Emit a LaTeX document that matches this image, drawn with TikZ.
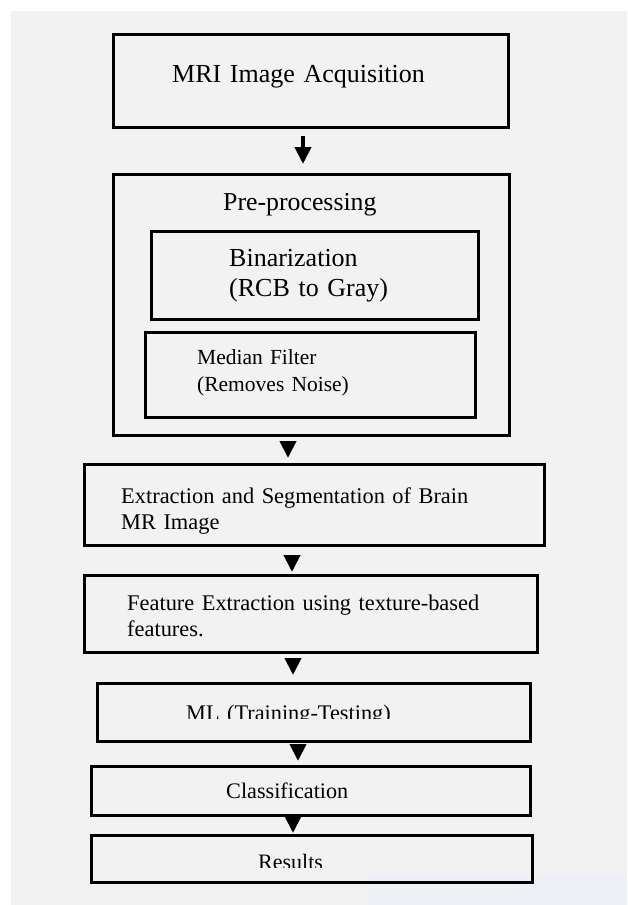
\documentclass[tikz,border=0pt]{standalone}
\usepackage{fontspec}
\setmainfont{Liberation Serif}
\usepackage{xcolor}
\usepackage{tikz}
\usetikzlibrary{arrows.meta}
\usetikzlibrary{positioning}
\usetikzlibrary{calc}
\definecolor{paper}{HTML}{F2F2F2}
\definecolor{paperblue}{HTML}{EDF0F5}
\newcommand{\fsz}[2]{\fontsize{#1}{#2}\selectfont}
\tikzset{
	stage/.style={draw, line width=3pt, inner sep=0pt, anchor=north west},
	stagetext/.style={anchor=base west, inner sep=0pt, align=left, text width=420pt},
}

\begin{document}
\begin{tikzpicture}[x=1pt, y=-1pt, >={Triangle[length=17pt, width=16pt]}]
			%background
			\useasboundingbox (0,0) rectangle (627,905);
			\fill[white] (0,0) rectangle (627,905);
			\fill[paper] (11,11) rectangle (627,905);
			\fill[paperblue] (367,875) rectangle (627,905);
			
			%coordinates
			\coordinate (LLacq)  at (112,33);
			\coordinate (LLpre)  at (112,173);
			\coordinate (LLbin)  at (150,230);
			\coordinate (LLmed)  at (144,331);
			\coordinate (LLext)  at (83,463);
			\coordinate (LLfeat) at (83,574);
			\coordinate (LLml)   at (96,682);
			\coordinate (LLcls)  at (90,765);
			\coordinate (LLres)  at (90,834);
			
			\coordinate (AroneX)  at (303,0);
			\coordinate (ArtwoX)  at (288,0);
			\coordinate (ArthrX)  at (292,0);
			\coordinate (ArfourX) at (293,0);
			\coordinate (ArfiveX) at (298,0);
			\coordinate (ArsixX)  at (293,0);
			
			%nodes
			\node[stage, minimum width=395pt, minimum height=93pt] (acq) at (LLacq) {};
			\node[stage, minimum width=396pt, minimum height=261pt] (pre) at (LLpre) {};
			\node[stage, minimum width=327pt, minimum height=88pt] (bin) at (LLbin) {};
			\node[stage, minimum width=330pt, minimum height=85pt] (med) at (LLmed) {};
			\node[stage, minimum width=460pt, minimum height=81pt] (ext) at (LLext) {};
			\node[stage, minimum width=453pt, minimum height=77pt] (feat) at (LLfeat) {};
			\node[stage, minimum width=433pt, minimum height=58pt] (ml) at (LLml) {};
			\node[stage, minimum width=439pt, minimum height=49pt] (cls) at (LLcls) {};
			\node[stage, minimum width=441pt, minimum height=47pt] (res) at (LLres) {};
			
			\node[stagetext, font=\fsz{26}{30}] (acqtext) at (172,82) {MRI Image Acquisition};
			\node[stagetext, font=\fsz{25.8}{30}] (pretext) at (223,210) {Pre-processing};
			\node[stagetext, font=\fsz{26}{30}] (bintext) at (229,266) {Binarization\\(RCB to Gray)};
			\node[stagetext, font=\fsz{21.5}{27}] (medtext) at (197,364) {Median Filter\\(Removes Noise)};
			\node[stagetext, font=\fsz{22.4}{26}] (exttext) at (121,503) {Extraction and Segmentation of Brain\\MR Image};
			\node[stagetext, font=\fsz{22.4}{26}] (feattext) at (127,610) {Feature Extraction using texture-based\\features.};
			\begin{scope}
				\clip (ml.north west) rectangle (529,718);
				\node[stagetext, font=\fsz{22.3}{26}] (mltext) at (186,720) {ML (Training-Testing)};
			\end{scope}
			\node[stagetext, font=\fsz{22.2}{26}] (clstext) at (226,798) {Classification};
			\begin{scope}
				\clip (res.north west) rectangle (531,867.5);
				\node[stagetext, font=\fsz{22}{26}] (restext) at (258,869.5) {Results};
			\end{scope}
			
			%arrows
			\draw[->, line width=4pt, shorten <=7pt, shorten >=9pt] (acq.south -| AroneX) -- (pre.north -| AroneX);
			\draw[->, line width=4pt, shorten <=6pt, shorten >=5pt] (pre.south -| ArtwoX) -- (ext.north -| ArtwoX);
			\draw[->, line width=4pt, shorten <=10pt, shorten >=2pt] (ext.south -| ArthrX) -- (feat.north -| ArthrX);
			\draw[->, line width=4pt, shorten <=7pt, shorten >=7pt] (feat.south -| ArfourX) -- (ml.north -| ArfourX);
			\draw[->, line width=4pt, shorten <=5pt, shorten >=4pt] (ml.south -| ArfiveX) -- (cls.north -| ArfiveX);
			\draw[->, line width=4pt, shorten <=1pt, shorten >=1pt] (cls.south -| ArsixX) -- (res.north -| ArsixX);
\end{tikzpicture}
\end{document}
